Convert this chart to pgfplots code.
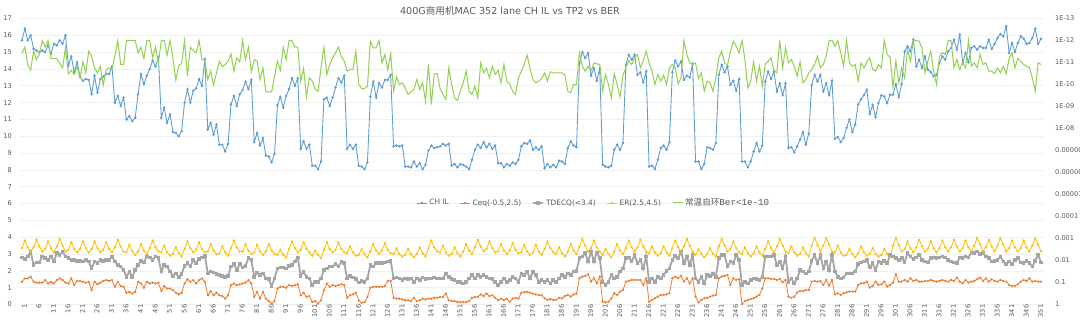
\documentclass[border=0pt]{standalone}
\usepackage{pgfplots}
\pgfplotsset{compat=1.18}
\usepackage{pgfplotstable}
\usepackage{fontspec}
\setmainfont{DejaVu Sans}
\newfontfamily\cjk{Noto Sans CJK SC}
\newfontfamily\mono{Liberation Mono}
\definecolor{cil}{HTML}{5B9BD5}
\definecolor{ceq}{HTML}{ED7D31}
\definecolor{ctd}{HTML}{A5A5A5}
\definecolor{cer}{HTML}{FFC000}
\definecolor{cber}{HTML}{92D050}
\definecolor{gridc}{HTML}{F0F0F0}
\definecolor{txt}{HTML}{595959}
\pgfplotsset{/pgf/number format/assume math mode=true}
\pgfplotstableread{
i il ceq td er ber
1 15.7 1.35 2.8 3.35 3.9e-12
2 16.4 1.55 2.7 3.8 2.01e-12
3 15.7 1.55 2.85 3.4 1.23e-11
4 16.0 1.65 3.15 3.15 2.23e-11
5 15.2 1.35 2.35 3.4 3.05e-12
6 15.1 1.3 2.5 3.85 7.3e-12
7 15.0 1.3 2.5 3.45 4.33e-12
8 15.1 1.3 2.85 3.15 1e-12
9 15.0 1.45 2.75 3.3 2.01e-12
10 15.4 1.25 2.65 3.75 1e-12
11 14.9 1.35 2.85 3.35 6.58e-12
12 15.5 1.25 2.55 3.1 6.58e-12
13 15.4 1.45 3.05 3.45 6.58e-12
14 15.7 1.55 2.95 3.9 1.04e-11
15 15.5 1.45 3.15 3.5 1.75e-11
16 16.0 1.3 2.85 3.15 2.15e-12
17 14.2 1.25 2.75 3.25 3.27e-11
18 14.75 1.55 2.65 3.7 2.31e-11
19 13.8 1.15 2.65 3.3 3.51e-11
20 14.4 1.4 2.6 3.1 1.47e-11
21 13.55 1.4 2.6 3.3 4.98e-11
22 13.3 1.35 2.55 3.75 9.33e-12
23 13.4 1.3 2.65 3.35 2.95e-11
24 13.35 1.35 2.55 3.1 3.05e-12
25 12.5 0.85 2.15 3.3 5.15e-12
26 13.6 1.35 2.55 3.75 1.75e-11
27 12.6 1.2 2.45 3.35 2.95e-11
28 13.4 1.3 2.65 3.1 1.47e-11
29 13.55 1.4 2.6 3.25 1.07e-10
30 13.7 1.45 2.65 3.7 2.08e-11
31 13.7 1.4 2.65 3.3 1.75e-11
32 14.15 1.45 2.85 3.1 2.08e-11
33 12.0 1.05 2.55 3.4 5.15e-12
34 12.4 1.35 2.35 3.85 1e-12
35 11.8 1.1 2.25 3.45 1.23e-11
36 12.3 1.05 2.05 3.15 1.23e-11
37 11.0 0.7 1.65 3.1 1e-12
38 11.2 0.75 1.95 3.55 1e-12
39 10.9 0.65 1.65 3.15 1e-12
40 11.1 0.75 2.05 2.95 1e-12
41 12.5 1.35 2.35 3.15 3.64e-12
42 13.7 1.25 2.6 3.6 2.01e-12
43 13.1 1.0 2.5 3.2 6.58e-12
44 13.6 1.35 2.85 3.0 1e-12
45 14.0 1.25 2.8 3.35 1e-12
46 14.5 1.3 2.65 3.8 6.14e-12
47 14.15 1.25 2.85 3.4 2.01e-12
48 14.7 1.3 2.75 3.15 1.04e-11
49 11.1 0.8 1.95 3.1 1e-12
50 11.7 1.1 2.35 3.5 1e-12
51 10.8 0.95 2.25 3.1 4.64e-12
52 11.3 0.95 1.95 2.9 1e-12
53 10.25 0.85 1.7 3.0 6.14e-12
54 10.2 0.7 1.85 3.4 6.35e-11
55 10.0 0.6 1.65 3.05 1.37e-11
56 10.3 0.7 1.8 2.85 1.11e-11
57 12.0 1.25 2.3 3.3 1e-12
58 12.8 1.5 2.45 3.75 4.18e-11
59 12.0 1.35 2.25 3.35 2.01e-12
60 12.7 1.45 2.65 3.1 2.85e-12
61 12.85 1.25 2.45 3.25 3.64e-12
62 13.4 1.45 2.7 3.7 1e-12
63 13.0 1.55 2.8 3.3 7.3e-12
64 14.6 1.35 2.9 3.1 8.11e-12
65 10.4 0.55 1.85 3.15 5.93e-11
66 10.8 0.8 1.95 3.6 2.48e-11
67 10.1 0.55 1.9 3.2 1.07e-10
68 10.7 0.7 1.8 3.0 2.95e-11
69 9.5 0.55 1.75 3.05 8.7e-12
70 9.5 0.5 1.7 3.45 1.57e-11
71 9.1 0.35 1.65 3.1 1.23e-11
72 9.55 0.55 1.7 2.9 8.7e-12
73 11.9 1.15 2.25 3.35 4.04e-12
74 12.4 1.25 2.4 3.8 2.48e-11
75 11.8 1.15 2.05 3.4 6.14e-12
76 12.5 1.2 2.4 3.15 9.33e-12
77 12.75 1.25 2.2 3.15 1e-12
78 13.25 1.3 2.3 3.6 7.3e-12
79 12.8 1.45 2.75 3.2 2.01e-12
80 13.35 1.25 2.65 3.0 2.66e-11
81 9.65 0.45 1.65 3.1 7.3e-12
82 10.2 0.75 1.9 3.55 8.7e-12
83 9.45 0.35 1.75 3.15 5.93e-11
84 9.9 0.75 1.85 2.95 1.75e-11
85 8.85 0.35 1.55 3.15 2.15e-10
86 8.8 0.2 1.5 3.6 2.15e-10
87 8.45 0.05 1.1 3.2 2.15e-10
88 8.95 0.2 1.55 3.0 4.18e-11
89 11.85 0.95 2.15 2.95 8.7e-12
90 12.35 1.05 2.2 3.25 2.31e-11
91 11.7 1.05 2.2 2.95 2.01e-12
92 12.4 1.0 2.15 2.8 7.3e-12
93 12.8 1.15 2.3 3.3 1e-12
94 13.45 1.1 2.35 3.75 1e-12
95 13.0 1.15 2.55 3.35 2.01e-12
96 13.45 1.2 2.8 3.1 2.01e-12
97 9.25 0.55 1.7 3.25 7.05e-11
98 9.7 0.7 1.95 3.7 1.87e-11
99 9.25 0.45 1.65 3.3 3.64e-10
100 9.5 0.5 1.55 3.1 4.98e-11
101 8.25 0.15 1.15 2.9 7.05e-11
102 8.25 0.2 1.35 3.2 1.69e-10
103 8.05 0.05 1.35 2.95 2.01e-10
104 8.5 0.25 1.55 2.75 1.75e-11
105 12.2 0.85 2.05 3.25 2.01e-12
106 12.3 1.25 2.15 3.7 3.51e-11
107 11.8 1.05 2.25 3.3 1.23e-11
108 12.3 1.15 2.25 3.1 6.14e-12
109 12.9 1.1 2.4 3.25 3.64e-12
110 13.45 1.15 2.25 3.7 2.01e-12
111 13.2 1.2 2.55 3.3 5.15e-12
112 13.6 1.15 2.45 3.1 8.7e-12
113 9.25 0.4 1.55 3.05 2.48e-11
114 9.5 0.55 1.7 3.45 2.08e-11
115 9.25 0.6 1.6 3.1 2.08e-11
116 9.5 0.7 1.5 2.9 3.05e-12
117 8.25 0.25 1.3 2.95 1e-10
118 8.2 0.1 1.4 3.3 1.52e-10
119 8.05 0.15 1.35 3.0 1.52e-10
120 8.45 0.45 1.55 2.8 1.19e-10
121 12.35 1.0 2.35 3.15 1.07e-12
122 13.25 1.05 2.25 3.6 2.15e-12
123 12.3 1.05 2.45 3.2 2.15e-12
124 13.15 1.05 2.45 3.0 1e-12
125 12.9 1.05 2.45 3.2 1.04e-11
126 13.35 1.1 2.5 3.65 4.33e-12
127 13.35 1.4 2.55 3.25 2.08e-11
128 13.65 1.4 2.6 3.05 4.04e-12
129 9.4 0.4 1.55 3.0 2.01e-10
130 9.45 0.35 1.6 3.35 4.64e-11
131 9.4 0.35 1.55 3.0 1e-10
132 9.45 0.3 1.45 2.85 8.4e-11
133 8.2 0.25 1.55 2.95 1.42e-10
134 8.2 0.25 1.5 3.3 2.85e-10
135 8.15 0.2 1.55 3.0 2.15e-10
136 8.5 0.4 1.35 2.8 1.69e-10
137 8.2 0.2 1.55 3.0 5.93e-11
138 8.4 0.25 1.45 3.4 1.69e-10
139 8.05 0.35 1.6 3.05 8.4e-11
140 8.3 0.3 1.5 2.85 5.72e-10
141 9.15 0.35 1.55 3.35 1.23e-11
142 9.45 0.35 1.55 3.8 8.11e-10
143 9.3 0.4 1.6 3.4 3.27e-11
144 9.35 0.4 1.55 3.15 3.16e-11
145 9.4 0.45 1.55 3.1 1.52e-10
146 9.55 0.45 1.55 3.5 2.85e-10
147 9.45 0.65 1.85 3.1 4.81e-10
148 9.55 0.25 1.65 2.9 1.75e-11
149 8.25 0.2 1.5 3.0 1e-10
150 8.35 0.2 1.45 3.4 4.04e-10
151 8.15 0.15 1.35 3.05 5.34e-10
152 8.35 0.15 1.35 2.85 2.01e-10
153 8.3 0.15 1.25 3.15 8.4e-11
154 8.2 0.15 1.35 3.6 2.48e-11
155 8.05 0.2 1.55 3.2 2.01e-10
156 8.6 0.4 1.75 3.0 2.85e-10
157 9.2 0.45 1.55 3.4 1.19e-10
158 9.5 0.45 1.75 3.85 4.04e-10
159 9.3 0.6 1.65 3.45 1.04e-11
160 9.65 0.5 1.75 3.15 2.95e-11
161 9.35 0.65 1.65 3.3 1.87e-11
162 9.55 0.5 1.55 3.75 4.98e-11
163 9.25 0.55 1.5 3.35 1.47e-11
164 9.45 0.4 1.35 3.1 3.51e-11
165 8.4 0.25 1.15 3.15 2.31e-11
166 8.4 0.35 1.35 3.6 8.4e-11
167 8.15 0.25 1.55 3.2 1.23e-11
168 8.35 0.35 1.35 3.0 7.05e-11
169 8.25 0.15 1.45 3.2 9.33e-11
170 8.45 0.35 1.65 3.65 2.01e-10
171 8.35 0.4 1.55 3.25 2.85e-10
172 8.6 0.35 1.35 3.05 4.98e-11
173 9.4 0.7 1.85 3.1 2.48e-11
174 9.6 0.75 1.75 3.55 1.23e-11
175 9.55 0.75 1.95 3.15 4.64e-12
176 9.75 0.7 1.55 2.95 1.94e-11
177 9.2 0.65 1.95 3.1 5.93e-11
178 9.35 0.6 1.75 3.55 8.4e-11
179 9.2 0.55 1.35 3.15 7.05e-11
180 9.4 0.55 1.45 2.95 5.34e-11
181 8.1 0.37 1.35 3.3 2.95e-11
182 8.35 0.27 1.45 3.75 7.05e-11
183 8.15 0.32 1.25 3.35 2.66e-11
184 8.3 0.27 1.45 3.1 2.95e-11
185 8.15 0.27 1.35 3.0 2.95e-11
186 8.55 0.4 1.55 3.4 2.95e-11
187 8.5 0.37 1.75 3.05 2.95e-11
188 8.35 0.5 1.65 2.85 3.77e-11
189 9.3 0.57 1.85 3.15 2.01e-10
190 9.7 0.47 1.75 3.6 2.39e-10
191 9.45 0.6 1.95 3.2 1e-10
192 9.35 0.65 2.0 3.0 1e-10
193 14.35 1.56 2.75 3.45 3.64e-12
194 15.0 1.66 2.85 3.9 1.47e-11
195 14.65 1.7 3.05 3.5 2.48e-11
196 14.95 1.8 2.55 3.15 1.47e-11
197 13.6 1.36 3.15 3.35 2.48e-11
198 14.05 1.56 2.55 3.8 1.04e-11
199 13.3 1.26 3.1 3.4 1.15e-11
200 14.05 1.66 2.75 3.15 1.23e-11
201 8.3 0.17 1.35 2.95 2.01e-10
202 8.2 0.13 1.15 3.3 3.51e-11
203 8.15 0.17 1.35 3.0 1e-10
204 8.25 0.37 1.75 2.8 4.04e-10
205 9.2 0.67 1.55 3.15 3.27e-11
206 9.5 0.57 1.65 3.6 1e-10
207 9.2 0.77 1.95 3.2 3.77e-10
208 9.6 0.86 2.15 3.0 3.77e-11
209 14.25 1.36 2.75 3.35 1.75e-11
210 14.85 1.4 2.8 3.8 8.11e-12
211 14.55 1.46 2.55 3.4 1.23e-11
212 14.85 1.46 2.95 3.15 6.14e-12
213 13.65 1.46 2.45 3.4 4.33e-12
214 13.8 1.46 2.65 3.85 1.75e-11
215 13.2 1.16 2.15 3.45 8.11e-12
216 13.85 1.56 2.85 3.15 3.05e-12
217 8.2 0.17 1.35 3.05 1.04e-11
218 8.25 0.27 1.55 3.45 2.48e-11
219 8.05 0.37 1.35 3.1 1e-10
220 8.6 0.47 1.65 2.9 3.51e-11
221 9.3 0.57 1.55 3.05 7.05e-11
222 9.45 0.57 1.75 3.45 3.77e-11
223 9.2 0.6 2.0 3.1 1e-10
224 9.65 0.67 2.15 2.9 1.75e-11
225 13.8 1.56 2.65 3.35 1.23e-11
226 14.5 1.66 2.9 3.8 1.75e-11
227 14.15 1.56 2.75 3.4 9.33e-11
228 14.45 1.7 3.15 3.15 4.98e-11
229 13.35 1.36 2.45 3.45 1e-12
230 13.6 1.56 2.85 3.9 4.33e-12
231 13.5 1.26 2.35 3.5 1.04e-11
232 14.3 1.56 2.95 3.15 1.23e-11
233 8.5 0.47 1.55 2.95 1.04e-11
234 8.5 0.13 1.35 3.3 5.34e-11
235 8.05 0.27 1.65 3.0 2.95e-11
236 8.35 0.37 1.25 2.8 2.01e-10
237 9.35 0.4 1.75 3.0 7.05e-11
238 9.3 0.47 1.7 3.35 8.4e-11
239 9.2 0.53 1.8 3.0 2.01e-10
240 9.6 0.57 1.65 2.85 4.98e-11
241 13.65 1.56 2.75 3.45 6.14e-12
242 14.25 1.66 2.95 3.9 3.05e-12
243 13.8 1.7 2.95 3.5 1.04e-11
244 14.15 1.76 2.25 3.15 1.32e-11
245 13.05 1.16 2.55 3.3 3.05e-12
246 13.3 1.56 2.45 3.75 1.07e-12
247 12.7 1.46 2.95 3.35 1.81e-12
248 13.4 1.5 2.65 3.1 3.64e-12
249 8.5 0.02 1.15 3.0 1e-12
250 8.5 0.2 1.35 3.4 7.3e-12
251 8.15 0.27 1.25 3.05 1.42e-10
252 8.5 0.33 1.45 2.85 7.05e-11
253 9.1 0.37 1.55 3.05 9.33e-12
254 9.6 0.47 1.5 3.45 7.05e-11
255 9.1 0.57 1.45 3.1 1.47e-11
256 9.45 0.96 1.65 2.9 1.19e-10
257 13.25 1.56 2.85 3.3 1.23e-11
258 13.85 1.56 2.85 3.75 8.7e-12
259 13.4 1.52 2.85 3.35 6.14e-12
260 13.85 1.52 2.95 3.1 2.31e-11
261 12.65 1.46 2.35 3.45 2.95e-11
262 13.15 1.52 2.55 3.9 1e-12
263 12.45 1.32 2.15 3.5 1.75e-11
264 13.15 1.46 2.85 3.15 2.15e-12
265 9.3 0.47 1.35 3.05 1.04e-11
266 9.35 0.4 1.55 3.45 7.3e-12
267 9.05 0.47 1.25 3.1 1.47e-11
268 9.4 0.72 1.55 2.9 4.18e-11
269 9.8 0.8 2.05 3.0 9.33e-12
270 10.25 0.8 1.95 3.4 8.4e-11
271 9.5 0.86 1.85 3.05 5.93e-11
272 10.15 0.86 1.95 2.85 2.95e-11
273 13.05 1.36 2.6 3.5 2.08e-11
274 13.65 1.4 2.95 3.95 1.23e-11
275 13.25 1.36 2.45 3.55 5.15e-12
276 13.65 1.4 2.95 3.15 1.75e-11
277 12.65 1.16 2.15 3.5 1.23e-11
278 13.15 1.46 2.55 3.95 5.15e-12
279 12.45 1.12 2.05 3.55 1e-12
280 13.3 1.46 2.95 3.15 1e-12
281 9.85 0.6 1.95 3.1 1.81e-12
282 9.95 0.67 1.65 3.5 1e-12
283 9.65 0.57 1.55 3.1 3.64e-12
284 9.9 0.67 1.6 2.9 1.47e-11
285 10.5 0.72 1.85 2.95 1e-12
286 11.0 0.77 1.85 3.3 1.04e-11
287 10.25 0.77 1.85 3.0 1.47e-11
288 10.7 0.77 1.95 2.8 1.23e-11
289 11.9 1.16 2.4 3.05 7.05e-11
290 12.2 1.26 2.5 3.45 1.04e-11
291 12.45 1.26 2.55 3.1 1.75e-11
292 12.77 1.36 2.65 2.9 9.33e-12
293 11.32 1.0 2.2 3.0 6.14e-12
294 11.87 1.1 2.45 3.35 2.08e-11
295 11.14 1.36 2.05 3.0 2.48e-11
296 11.97 1.16 2.55 2.85 1.23e-11
297 12.43 1.2 2.45 2.95 1.75e-11
298 12.37 1.36 2.6 3.3 1e-12
299 11.97 1.06 2.45 3.0 4.33e-12
300 12.47 1.16 2.95 2.8 5.72e-12
301 12.47 1.3 2.85 3.5 1.32e-10
302 13.1 1.8 2.75 3.95 8.7e-12
303 12.33 1.36 2.65 3.55 8.4e-11
304 13.1 1.36 2.75 3.15 1.75e-11
305 15.05 1.46 2.5 3.3 4.98e-11
306 15.35 1.36 3.05 3.75 2.56e-12
307 15.05 1.56 2.85 3.35 8.7e-12
308 15.74 1.4 2.7 3.1 1e-12
309 14.15 1.46 2.8 3.4 1e-12
310 14.55 1.36 2.95 3.85 1.07e-12
311 14.06 1.36 2.65 3.45 2.31e-12
312 14.75 1.4 2.55 3.15 2.95e-11
313 13.96 1.4 2.5 3.3 8.7e-12
314 13.82 1.46 2.75 3.75 3.05e-12
315 13.56 1.4 2.8 3.35 2.48e-11
316 13.66 1.36 2.75 3.1 1e-10
317 14.36 1.4 2.8 3.35 5.15e-12
318 14.75 1.46 2.85 3.8 3.64e-12
319 14.55 1.4 2.8 3.4 4.33e-12
320 15.05 1.36 2.65 3.15 1e-12
321 15.25 1.46 2.55 3.4 1e-12
322 15.74 1.4 2.5 3.85 1.75e-11
323 15.15 1.6 2.45 3.45 7.3e-12
324 16.04 1.36 2.8 3.15 2.08e-11
325 14.36 1.26 2.75 3.35 1.04e-11
326 14.95 1.46 2.85 3.8 1.75e-11
327 14.4 1.3 2.8 3.4 1e-12
328 15.25 1.36 3.1 3.15 1.47e-11
329 15.35 1.4 3.05 3.5 1.04e-11
330 15.15 1.5 3.15 3.95 1.75e-11
331 15.35 1.6 3.0 3.55 4.33e-12
332 15.25 1.4 3.05 3.15 1.23e-11
333 15.25 1.56 2.85 3.4 1.04e-11
334 15.74 1.36 2.75 3.85 2.48e-11
335 15.19 1.5 2.55 3.45 2.48e-11
336 15.49 1.4 2.6 3.15 3.27e-11
337 15.84 1.36 2.65 3.5 1.75e-11
338 16.08 1.46 2.85 3.95 2.95e-11
339 15.94 1.4 2.55 3.55 1.47e-11
340 16.54 1.36 2.4 3.15 3.27e-11
341 14.95 1.16 2.55 3.35 6.58e-12
342 15.54 1.1 2.4 3.8 3.64e-12
343 15.01 1.1 2.65 3.4 1.75e-11
344 15.54 1.2 2.75 3.15 6.58e-12
345 15.94 1.36 2.5 3.35 8.7e-12
346 15.8 1.46 2.45 3.8 1.23e-11
347 15.49 1.4 2.6 3.4 1.47e-11
348 15.54 1.56 2.45 3.15 1.75e-11
349 15.84 1.36 2.25 3.5 4.98e-11
350 16.4 1.4 2.6 3.95 2.01e-10
351 15.49 1.36 2.95 3.55 1.04e-11
352 15.8 1.36 2.5 3.15 1.23e-11
}\data
\pgfplotsset{
  common/.style={
    at={(20.5pt,17.5pt)}, anchor=south west,
    scale only axis, width=1022pt, height=286pt,
    xmin=0.5, xmax=352.5,
    axis line style={draw=none},
    tick style={draw=none},
    major tick length=0pt,
    ticklabel style={text=txt},
  },
  legend image code/.code={%
    \draw[mark repeat=2,mark phase=2,#1] plot coordinates {(0pt,0pt) (5pt,0pt) (10pt,0pt)};%
  },
}
\begin{document}
\begin{tikzpicture}[x=1pt,y=1pt]
\useasboundingbox (0,0) rectangle (1080,322);
\begin{axis}[common,
  ymin=0, ymax=17,
  ytick={0,1,...,17},
  ymajorgrids, grid style={draw=gridc, line width=0.7pt},
  xtick={1,6,...,351},
  xticklabel style={rotate=90, anchor=east, inner sep=0pt, yshift=-2.5pt,
    font=\fontsize{6.6}{7}\selectfont},
  yticklabel style={anchor=east, inner sep=0pt, xshift=-8.5pt,
    font=\fontsize{6.6}{7}\selectfont},
  legend style={at={(0.561,0.355)}, anchor=center, draw=none, fill=none,
    font=\fontsize{7.4}{8}\selectfont, text=txt,
    /tikz/every even column/.append style={column sep=9pt}},
  legend columns=-1,
  legend cell align=left,
]
\addplot[color=cil, line width=0.85pt, mark=*, mark size=0.75pt] table[x=i,y=il] {\data};
\addlegendentry{CH IL}
\addplot[color=ceq, line width=0.8pt, mark=*, mark size=0.7pt] table[x=i,y=ceq] {\data};
\addlegendentry{Ceq(-0.5,2.5)}
\addplot[color=ctd, line width=1.8pt, mark=square*, mark size=0.9pt] table[x=i,y=td] {\data};
\addlegendentry{TDECQ(<3.4)}
\addplot[color=cer, line width=0.8pt, mark=*, mark size=0.7pt] table[x=i,y=er] {\data};
\addlegendentry{ER(2.5,4.5)}
\addlegendimage{color=cber, line width=1pt, no marks}
\addlegendentry{{\cjk\fontsize{8.6}{9}\selectfont 常温自环}{\mono\fontsize{9.2}{9}\selectfont Ber<1e-10}}
\end{axis}
\begin{axis}[common,
  ymode=log, ymin=1e-13, ymax=1, y dir=reverse,
  hide x axis,
  axis y line*=right,
  ytick={1e-13,1e-12,1e-11,1e-10,1e-9,1e-8,1e-7,1e-6,1e-5,1e-4,1e-3,1e-2,1e-1,1},
  yticklabels={1E-13,1E-12,1E-11,1E-10,1E-09,1E-08,0.0000001,0.000001,0.00001,0.0001,0.001,0.01,0.1,1},
  yticklabel style={anchor=west, inner sep=0pt, xshift=12.5pt,
    font=\fontsize{6.6}{7}\selectfont},
]
\addplot[color=cber, line width=1pt, no marks] table[x=i,y=ber] {\data};
\end{axis}
\node[text=txt, font=\fontsize{9.6}{10}\selectfont] at (510,311.5)
  {400G{\cjk 商用机}MAC 352 lane CH IL vs TP2 vs BER};
\end{tikzpicture}
\end{document}
